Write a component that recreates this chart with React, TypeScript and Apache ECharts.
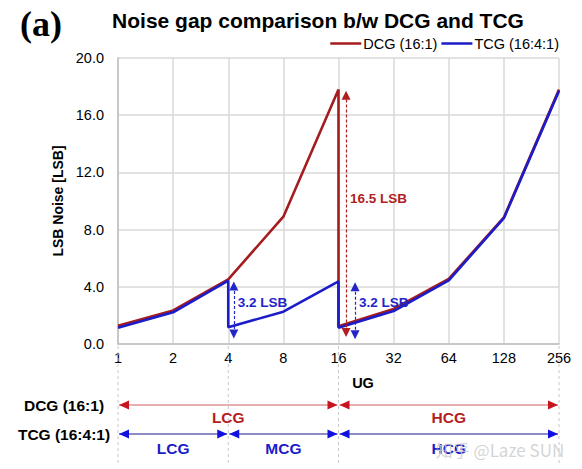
import React, { useEffect, useRef } from "react";
import * as echarts from "echarts";

// UG gain ticks (log2 spaced)
const ugTicks = [1, 2, 4, 8, 16, 32, 64, 128, 256];
const yTickMax = 20;
const yTickStep = 4;

// DCG (16:1) noise, in LSB
const dcgUG = [1, 2, 4, 8, 16, 16, 32, 64, 128, 256];
const dcgNoise = [1.28, 2.35, 4.52, 8.9, 17.8, 1.25, 2.45, 4.55, 8.85, 17.8];

// TCG (16:4:1) noise, in LSB
const tcgUG = [1, 2, 4, 4, 8, 16, 16, 32, 64, 128, 256];
const tcgNoise = [1.14, 2.22, 4.43, 1.17, 2.26, 4.38, 1.14, 2.3, 4.45, 8.8, 17.7];

// noise gap annotations
const gapLabels = ["3.2 LSB", "16.5 LSB", "3.2 LSB"];
const gapUG = [4.29, 17.6, 19.7];
const gapFrom = [0.7, 0.8, 0.65];
const gapTo = [4.05, 17.4, 4.0];
const gapLabelY = [2.87, 10.2, 2.87];

// conversion gain ranges
const dcgRanges = [
  { name: "LCG", from: 1, to: 16 },
  { name: "HCG", from: 16, to: 256 },
];
const tcgRanges = [
  { name: "LCG", from: 1, to: 4 },
  { name: "MCG", from: 4, to: 16 },
  { name: "HCG", from: 16, to: 256 },
];
const boundaryUG = [1, 4, 16, 256];

const RED = "#a51c1f";
const BLUE = "#1c1cc8";
const ANN_RED = "#b01e22";
const ANN_BLUE = "#2424c8";
const FONT = "Arial, 'Liberation Sans', sans-serif";

const lg = (v: number) => Math.log2(v);

export default function App() {
  const ref = useRef<HTMLDivElement>(null);
  useEffect(() => {
    if (!ref.current) return;
    const chart = echarts.init(ref.current, null, { renderer: "svg" });
    const gapColors = [ANN_BLUE, ANN_RED, ANN_BLUE];
    const option: any = {
      animation: false,
      backgroundColor: "#ffffff",
      grid: { left: 118, right: 23, top: 58, bottom: 125 },
      title: {
        text: "Noise gap comparison b/w DCG and TCG",
        left: 313,
        textAlign: "center",
        top: 5,
        textStyle: { fontFamily: FONT, fontWeight: "bold", fontSize: 21, color: "#000" },
      },
      legend: {
        data: ["DCG (16:1)", "TCG (16:4:1)"],
        right: 18,
        top: 31,
        icon: "rect",
        itemWidth: 31,
        itemHeight: 2.5,
        itemGap: 4,
        textStyle: { fontFamily: FONT, fontSize: 14.5, color: "#000", padding: [0, 0, 0, -3] },
      },
      xAxis: {
        type: "value",
        min: 0,
        max: 8,
        interval: 1,
        axisLine: { show: true, lineStyle: { color: "#bfbfbf", width: 1.5 } },
        axisTick: { show: false },
        axisLabel: {
          formatter: (v: number) => String(ugTicks[Math.round(v)]),
          fontFamily: FONT,
          fontSize: 14.5,
          color: "#000",
          margin: 6,
        },
        splitLine: { show: true, lineStyle: { color: "#d9d9d9", width: 1.5 } },
      },
      yAxis: {
        type: "value",
        min: 0,
        max: yTickMax,
        interval: yTickStep,
        name: "LSB Noise [LSB]",
        nameLocation: "middle",
        nameGap: 46,
        nameTextStyle: { fontFamily: FONT, fontWeight: "bold", fontSize: 14, color: "#000" },
        axisLine: { show: true, lineStyle: { color: "#bfbfbf", width: 1.5 } },
        axisTick: { show: false },
        axisLabel: {
          formatter: (v: number) => v.toFixed(1),
          fontFamily: FONT,
          fontSize: 14.5,
          color: "#000",
          margin: 14,
        },
        splitLine: { show: true, lineStyle: { color: "#d9d9d9", width: 1.5 } },
      },
      series: [
        {
          name: "DCG (16:1)",
          type: "line",
          symbol: "none",
          color: RED,
          lineStyle: { color: RED, width: 2.6 },
          data: dcgUG.map((u, i) => [lg(u), dcgNoise[i]]),
          z: 2,
        },
        {
          name: "TCG (16:4:1)",
          type: "line",
          symbol: "none",
          color: BLUE,
          lineStyle: { color: BLUE, width: 2.6 },
          data: tcgUG.map((u, i) => [lg(u), tcgNoise[i]]),
          z: 3,
          markLine: {
            silent: true,
            symbol: ["triangle", "triangle"],
            symbolSize: [9, 9],
            label: { show: false },
            data: gapUG.map((u, i) => [
              {
                coord: [lg(u), gapFrom[i]],
                lineStyle: { color: gapColors[i], type: [3, 2], width: 1.2 },
                itemStyle: { color: gapColors[i] },
              },
              { coord: [lg(u), gapTo[i]] },
            ]),
          },
          markPoint: {
            silent: true,
            symbol: "circle",
            symbolSize: 0,
            data: gapUG.map((u, i) => ({
              coord: [lg(u), gapLabelY[i]],
              label: {
                show: true,
                position: "right",
                distance: 4,
                formatter: gapLabels[i],
                fontFamily: FONT,
                fontWeight: "bold",
                fontSize: 13.5,
                color: gapColors[i],
              },
            })),
          },
        },
      ],
    };
    chart.setOption(option);

    const px = (u: number) => (chart.convertToPixel({ gridIndex: 0 }, [lg(u), 0]) as number[])[0];
    const bottomY = (chart.convertToPixel({ gridIndex: 0 }, [0, 0]) as number[])[1];
    const g: any[] = [];
    boundaryUG.forEach((u) => {
      const x = px(u);
      g.push({
        type: "line",
        shape: { x1: x, y1: bottomY + 2, x2: x, y2: 463 },
        style: { stroke: "#c8c8c8", lineWidth: 1, lineDash: [3, 3] },
        z: 1,
      });
    });
    const arrowRow = (ranges: any[], y: number, lineC: string, headC: string, txtC: string, txtDy: number) => {
      ranges.forEach((r) => {
        const x1 = px(r.from) + 1;
        const x2 = px(r.to) - 1;
        g.push({
          type: "line",
          shape: { x1, y1: y, x2, y2: y },
          style: { stroke: lineC, lineWidth: 1.2 },
          z: 5,
        });
        g.push({
          type: "polygon",
          shape: { points: [[x1, y], [x1 + 10, y - 4.5], [x1 + 10, y + 4.5]] },
          style: { fill: headC },
          z: 6,
        });
        g.push({
          type: "polygon",
          shape: { points: [[x2, y], [x2 - 10, y - 4.5], [x2 - 10, y + 4.5]] },
          style: { fill: headC },
          z: 6,
        });
        g.push({
          type: "text",
          x: (x1 + x2) / 2,
          y: y + txtDy,
          style: {
            text: r.name,
            fill: txtC,
            font: `bold 15.5px ${FONT}`,
            align: "center",
            verticalAlign: "middle",
          },
          z: 6,
        });
      });
    };
    arrowRow(dcgRanges, 405, "#d06060", "#c8141e", "#b41e22", 12);
    arrowRow(tcgRanges, 434, "#1a1a8c", "#1010e0", "#1c1cc8", 14);
    g.push(
      {
        type: "text",
        x: 64,
        y: 405,
        style: { text: "DCG (16:1)", fill: "#000", font: `bold 15.5px ${FONT}`, align: "center", verticalAlign: "middle" },
      },
      {
        type: "text",
        x: 64,
        y: 434,
        style: { text: "TCG (16:4:1)", fill: "#000", font: `bold 15.5px ${FONT}`, align: "center", verticalAlign: "middle" },
      },
      {
        type: "text",
        x: 363,
        y: 383,
        style: { text: "UG", fill: "#000", font: `bold 14.5px ${FONT}`, align: "center", verticalAlign: "middle" },
      },
      {
        type: "text",
        x: 41,
        y: 24,
        style: {
          text: "(a)",
          fill: "#000",
          font: "bold 36px 'Liberation Serif', 'Times New Roman', serif",
          align: "center",
          verticalAlign: "middle",
        },
      },
      {
        type: "text",
        x: 500,
        y: 449,
        style: {
          text: "知乎 @Laze SUN",
          fill: "rgba(205,205,205,0.85)",
          font: "17px 'Noto Sans CJK SC', 'Noto Sans', sans-serif",
          align: "center",
          verticalAlign: "middle",
        },
        z: 10,
      }
    );
    chart.setOption({ graphic: g });
    return () => chart.dispose();
  }, []);
  return (
    <div
      ref={ref}
      style={{ position: "absolute", left: 0, top: 0, width: 582, height: 469, background: "#fff" }}
    />
  );
}
